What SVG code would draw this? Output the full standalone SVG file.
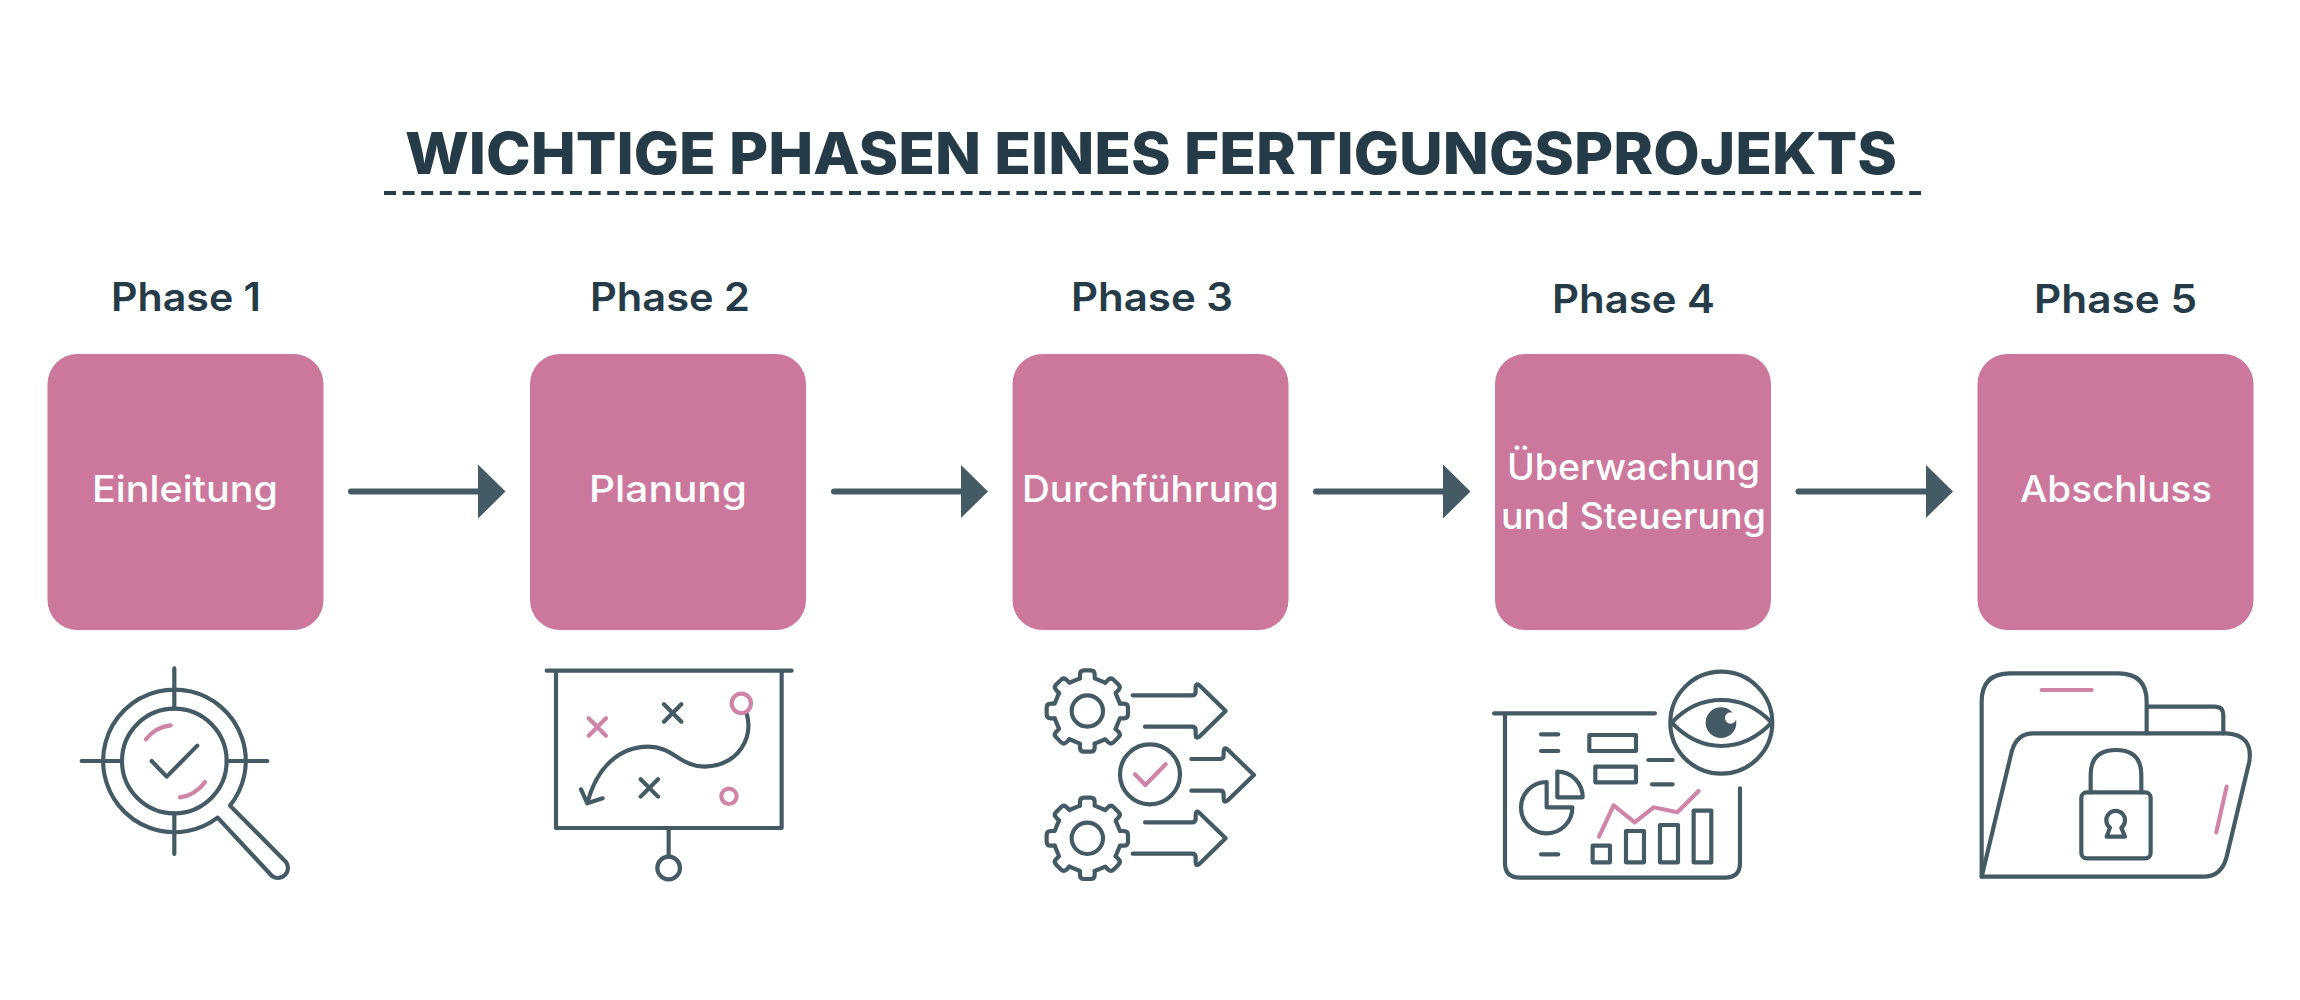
<svg xmlns="http://www.w3.org/2000/svg" xmlns:xlink="http://www.w3.org/1999/xlink" width="2300" height="1000" viewBox="0 0 2300 1000">
<style>
text{font-family:"Inter","Noto Sans","Liberation Sans",sans-serif;text-anchor:start}
.title{font-size:58px;font-weight:800;fill:#253c48}
.ph{font-size:39px;font-weight:600;fill:#253c48}
.lb{font-size:36.5px;font-weight:500;fill:#fff}
.box{fill:#cb789c}
.conn{stroke:#445a64;stroke-width:6;stroke-linecap:round;fill:none}
.i{fill:none;stroke:#445a64;stroke-width:12.5;stroke-linecap:round;stroke-linejoin:round}
.p{fill:none;stroke:#cf85a8;stroke-width:12.5;stroke-linecap:round;stroke-linejoin:round}
</style>
<defs>
<marker id="ah" markerUnits="userSpaceOnUse" markerWidth="30" markerHeight="56" refX="0" refY="28" orient="auto"><path d="M0 1L27.5 28L0 55Z" fill="#445a64"/></marker>
<path id="gt" d="M-22 -98V-110Q-22 -122 -10 -122H10Q22 -122 22 -110V-98L53.7 -84.9"/>
<g id="gear"><use xlink:href="#gt"/><use xlink:href="#gt" transform="rotate(45)"/><use xlink:href="#gt" transform="rotate(90)"/><use xlink:href="#gt" transform="rotate(135)"/><use xlink:href="#gt" transform="rotate(180)"/><use xlink:href="#gt" transform="rotate(225)"/><use xlink:href="#gt" transform="rotate(270)"/><use xlink:href="#gt" transform="rotate(315)"/><circle r="47"/></g>
</defs>
<rect width="2300" height="1000" fill="#fff"/>
<g id="title">
<text class="title" x="405" y="174" textLength="1492" lengthAdjust="spacingAndGlyphs">WICHTIGE PHASEN EINES FERTIGUNGSPROJEKTS</text>
<line x1="384" y1="193" x2="1921" y2="193" stroke="#253c48" stroke-width="4" stroke-dasharray="12 6.6"/>
</g>
<g id="connectors">
<line class="conn" x1="351" y1="491.5" x2="478" y2="491.5" marker-end="url(#ah)"/>
<line class="conn" x1="834" y1="491.5" x2="960.5" y2="491.5" marker-end="url(#ah)"/>
<line class="conn" x1="1316" y1="491.5" x2="1443" y2="491.5" marker-end="url(#ah)"/>
<line class="conn" x1="1798.5" y1="491.5" x2="1925.5" y2="491.5" marker-end="url(#ah)"/>
</g>
<g id="phase1">
<text class="ph" x="111" y="311" textLength="150" lengthAdjust="spacingAndGlyphs">Phase 1</text>
<rect class="box" x="47.5" y="354" width="276" height="276" rx="30"/>
<text class="lb" x="92" y="502" textLength="186" lengthAdjust="spacingAndGlyphs">Einleitung</text>
<g transform="translate(60 650) scale(.3333)">
<path class="i" d="M473 503A214 214 0 1 1 510 467L678 636A30 30 0 0 1 636 678L473 503"/>
<circle class="i" cx="343" cy="333" r="157"/>
<path class="i" d="M343 55V176M343 490V612M65 333H186M500 333H622M275 333L320 380L412 287"/>
<path class="p" d="M258 268A108 108 0 0 1 332 226M360 442A111 111 0 0 0 435 396"/>
</g>
</g>
<g id="phase2">
<text class="ph" x="590" y="311" textLength="160" lengthAdjust="spacingAndGlyphs">Phase 2</text>
<rect class="box" x="530" y="354" width="276" height="276" rx="30"/>
<text class="lb" x="589" y="502" textLength="158" lengthAdjust="spacingAndGlyphs">Planung</text>
<g transform="translate(530 650) scale(.3333)">
<path class="i" d="M50 62H785M78 62V534H755V62M416 534V618"/>
<circle class="i" cx="416" cy="654" r="34"/>
<path class="i" d="M402 163L454 215M454 163L402 215M332 388L384 440M384 388L332 440"/>
<path class="i" d="M650 190C670 260 630 345 525 350C450 350 430 290 355 290C270 290 200 350 172 460M153 418L172 460L218 445"/>
<circle class="p" cx="634" cy="160" r="29"/>
<circle class="p" cx="597" cy="439" r="23"/>
<path class="p" d="M176 205L228 257M228 205L176 257"/>
</g>
</g>
<g id="phase3">
<text class="ph" x="1071" y="311" textLength="162" lengthAdjust="spacingAndGlyphs">Phase 3</text>
<rect class="box" x="1012.5" y="354" width="276" height="276" rx="30"/>
<text class="lb" x="1022" y="502" textLength="257" lengthAdjust="spacingAndGlyphs">Durchführung</text>
<g transform="translate(1030 650) scale(.3333)">
<use class="i" xlink:href="#gear" transform="translate(172 183)"/>
<use class="i" xlink:href="#gear" transform="translate(172 565)"/>
<path class="i" d="M308 136H486Q497 136 497 125V112Q497 98 508 106L587 183L508 260Q497 268 497 254V241Q497 230 486 230H345"/>
<path class="i" d="M484 327H570Q581 327 581 316V304Q581 290 592 298L672 375L592 452Q581 460 581 446V433Q581 422 570 422H484"/>
<path class="i" d="M345 517H486Q497 517 497 506V494Q497 480 508 488L587 565L508 642Q497 650 497 636V622Q497 611 486 611H308"/>
<circle class="i" cx="360" cy="373" r="90"/>
<path class="p" d="M315 373L346 405L407 343"/>
</g>
</g>
<g id="phase4">
<text class="ph" x="1552" y="313" textLength="163" lengthAdjust="spacingAndGlyphs">Phase 4</text>
<rect class="box" x="1495" y="354" width="276" height="276" rx="30"/>
<text class="lb" x="1507" y="480" textLength="253" lengthAdjust="spacingAndGlyphs">Überwachung</text>
<text class="lb" x="1501" y="529" textLength="265" lengthAdjust="spacingAndGlyphs">und Steuerung</text>
<g transform="translate(1480 650) scale(.3333)">
<path class="i" d="M42 190H525M75 190V640Q75 683 120 683H735Q780 683 780 640V415"/>
<circle class="i" cx="724" cy="218" r="153"/>
<path class="i" d="M575 218C620 170 670 150 724 150C780 150 830 170 875 218C830 265 780 288 724 288C670 288 620 265 575 218Z"/>
<circle cx="723" cy="218" r="46" fill="#445a64"/>
<circle cx="752" cy="204" r="17" fill="#fff"/>
<path class="i" d="M183 253H235M183 303H235M183 613H235M505 330H578M516 403H578"/>
<rect class="i" x="328" y="255" width="140" height="48"/>
<rect class="i" x="346" y="350" width="122" height="47"/>
<path class="i" d="M200 396V472H277A77 77 0 1 1 200 396Z"/>
<path class="i" d="M232 365V442H308A76 76 0 0 0 232 365Z"/>
<rect class="i" x="338" y="587" width="52" height="50"/>
<rect class="i" x="438" y="543" width="54" height="94"/>
<rect class="i" x="540" y="525" width="54" height="112"/>
<rect class="i" x="641" y="482" width="53" height="155"/>
<path class="p" d="M357 560L401 466L464 517L521 472L592 487L656 423"/>
</g>
</g>
<g id="phase5">
<text class="ph" x="2034" y="313" textLength="163" lengthAdjust="spacingAndGlyphs">Phase 5</text>
<rect class="box" x="1977.5" y="354" width="276" height="276" rx="30"/>
<text class="lb" x="2020" y="502" textLength="192" lengthAdjust="spacingAndGlyphs">Abschluss</text>
<g transform="translate(1960 650) scale(.3333)">
<path class="i" d="M65 680V155Q65 70 150 70H475Q560 70 560 155V250M560 170H765Q790 170 790 195V250"/>
<path class="i" d="M65 680L155 305Q170 250 220 250H800Q880 255 868 335L800 620Q785 680 730 680Z"/>
<rect class="i" x="364" y="427" width="208" height="198" rx="16"/>
<path class="i" d="M392 427V375Q392 300 468 300Q544 300 544 375V427"/>
<path class="i" d="M450 533A28 28 0 1 1 484 533L495 560H440Z"/>
<path class="p" d="M245 120H395M800 410L769 547"/>
</g>
</g>
</svg>
